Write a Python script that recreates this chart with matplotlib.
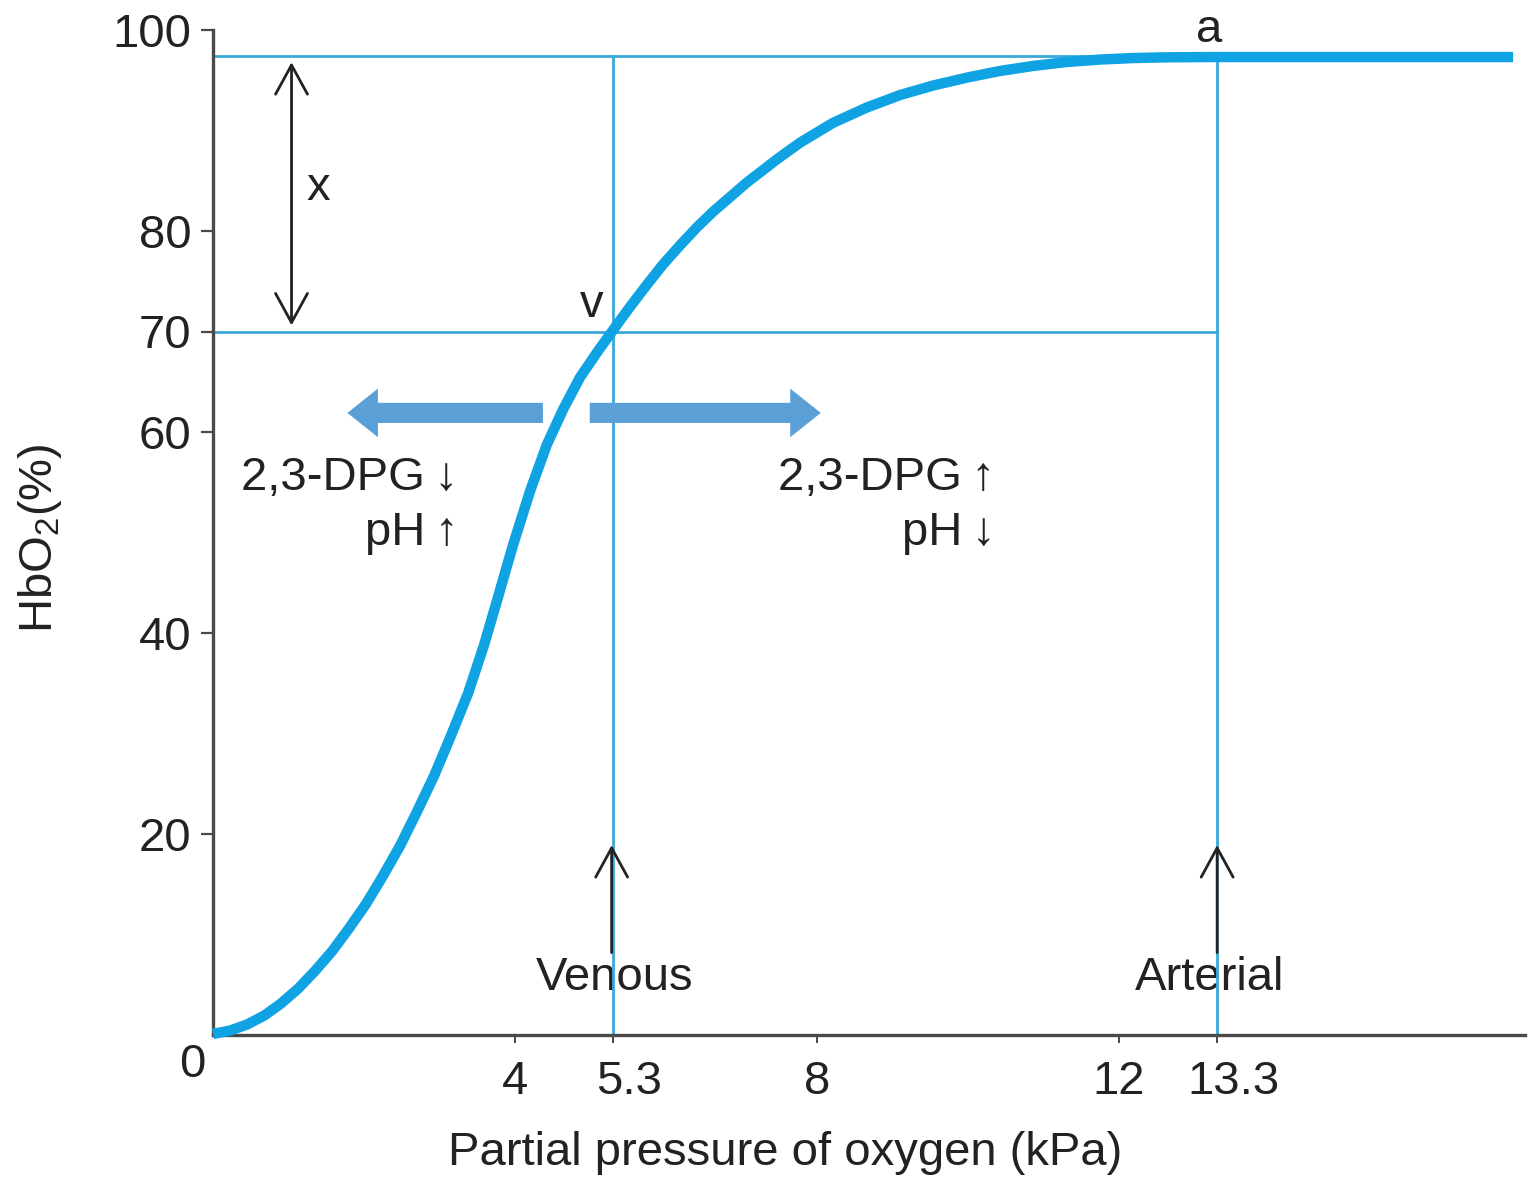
"""
Oxygen dissociation curve of haemoglobin, with venous and arterial points.
"""

import matplotlib

matplotlib.use('Agg')

import matplotlib.pyplot as plt
from matplotlib import font_manager
from matplotlib.patches import ArrowStyle, FancyArrowPatch
from matplotlib.transforms import ScaledTranslation

# curve (kPa, % saturation)
po2 = [0.0, 0.23, 0.45, 0.68, 0.90, 1.13, 1.35, 1.58, 1.80, 2.03, 2.25, 2.48,
       2.70, 2.93, 3.15, 3.38, 3.59, 3.76, 3.97, 4.20, 4.42, 4.64, 4.86, 5.09,
       5.29, 5.51, 5.75, 5.96, 6.19, 6.41, 6.62, 6.85, 7.07, 7.29, 7.47, 7.78,
       8.21, 8.66, 9.10, 9.54, 9.99, 10.42, 10.86, 11.31, 11.75, 12.19, 12.62,
       13.21, 17.22]
hbo2 = [0.10, 0.45, 1.04, 1.94, 3.13, 4.63, 6.37, 8.36, 10.60, 13.08, 15.82,
        18.86, 22.19, 25.82, 29.75, 34.03, 38.81, 43.18, 48.66, 54.13, 58.71,
        62.29, 65.42, 67.96, 70.05, 72.32, 74.68, 76.67, 78.61, 80.37, 81.90,
        83.39, 84.82, 86.09, 87.14, 88.81, 90.75, 92.29, 93.53, 94.48, 95.27,
        95.92, 96.42, 96.82, 97.06, 97.21, 97.28, 97.31, 97.31]

x_ticks = [4, 5.3, 8, 12, 13.3]
x_tick_labels = ['4', '5.3', '8', '12', '13.3']
y_ticks = [20, 40, 60, 70, 80, 100]
y_tick_labels = ['20', '40', '60', '70', '80', '100']

venous_po2 = 5.3
venous_sat = 70
arterial_po2 = 13.3
arterial_sat = 97.4

installed = {f.name for f in font_manager.fontManager.ttflist}
base_font = 'Liberation Sans Narrow' if 'Liberation Sans Narrow' in installed else 'Liberation Sans'
plt.rcParams['font.family'] = [base_font, 'DejaVu Sans']
plt.rcParams['mathtext.fontset'] = 'custom'
plt.rcParams['mathtext.rm'] = base_font

FS = 37 if base_font.endswith('Narrow') else 34
TEXT = '#222222'
AXIS = '#4a4a4a'
GUIDE = '#3aa8d8'
CURVE = '#0fa3e3'
SHIFT = '#5a9fd6'

fig = plt.figure(figsize=(15.3, 11.8), dpi=100)
ax = fig.add_axes([213 / 1530, 145 / 1180, 1312 / 1530, 1005 / 1180])
ax.set_xlim(0, 1312 / 75.5)
ax.set_ylim(0, 100)

for side in ('top', 'right'):
    ax.spines[side].set_visible(False)
for side in ('left', 'bottom'):
    ax.spines[side].set_color(AXIS)
    ax.spines[side].set_linewidth(2.4)

ax.set_xticks(x_ticks, x_tick_labels)
ax.set_yticks(y_ticks, y_tick_labels)
ax.tick_params(axis='y', direction='out', length=8.5, width=1.6, color=AXIS,
               labelsize=FS, labelcolor=TEXT, pad=7)
ax.tick_params(axis='x', direction='out', length=6, width=1.4, color=AXIS,
               labelsize=FS, labelcolor=TEXT, pad=12)

# decimal labels sit a little right of their ticks in the original
for label, text in zip(ax.get_xticklabels(), x_tick_labels):
    if '.' in text:
        label.set_transform(label.get_transform()
                            + ScaledTranslation(0.16, 0, fig.dpi_scale_trans))

# guide lines
ax.plot([0, arterial_po2], [arterial_sat, arterial_sat], color=GUIDE, lw=2, zorder=2)
ax.plot([0, arterial_po2], [venous_sat, venous_sat], color=GUIDE, lw=2, zorder=2)
ax.plot([venous_po2, venous_po2], [0, arterial_sat], color=GUIDE, lw=2, zorder=2)
ax.plot([arterial_po2, arterial_po2], [0, arterial_sat], color=GUIDE, lw=2, zorder=2)

ax.plot(po2, hbo2, color=CURVE, lw=7.5, solid_capstyle='butt',
        solid_joinstyle='round', zorder=4, clip_on=False)


def line_arrow(start, end, style):
    arrow = FancyArrowPatch(start, end,
                            arrowstyle=ArrowStyle(style, head_length=21, head_width=11.5),
                            mutation_scale=1, shrinkA=0, shrinkB=0,
                            color=TEXT, lw=2, zorder=5)
    ax.add_patch(arrow)


def shift_arrow(start, end):
    arrow = FancyArrowPatch(start, end,
                            arrowstyle=ArrowStyle('simple', head_length=22,
                                                  head_width=35, tail_width=14.5),
                            mutation_scale=1, shrinkA=0, shrinkB=0,
                            color=SHIFT, lw=0, zorder=3)
    ax.add_patch(arrow)


# x: drop in saturation between arterial and venous blood
line_arrow((1.04, 70.6), (1.04, 96.8), '<->')
ax.text(1.39, 83.1, 'x', fontsize=FS, color=TEXT, ha='center', va='baseline')

ax.text(5.02, 71.4, 'v', fontsize=FS, color=TEXT, ha='center', va='baseline')
ax.text(13.2, 98.8, 'a', fontsize=FS, color=TEXT, ha='center', va='baseline',
        clip_on=False)

line_arrow((5.28, 8.2), (5.28, 18.9), '->')
line_arrow((13.3, 8.2), (13.3, 18.9), '->')
ax.text(5.32, 4.5, 'Venous', fontsize=FS, color=TEXT, ha='center', va='baseline', zorder=1)
ax.text(13.2, 4.5, 'Arterial', fontsize=FS, color=TEXT, ha='center', va='baseline', zorder=1)

# curve shifts
shift_arrow((4.37, 61.9), (1.78, 61.9))
shift_arrow((4.99, 61.9), (8.05, 61.9))
ax.text(3.25, 54.2, '2,3-DPG\u2009\u2193', fontsize=FS, color=TEXT, ha='right', va='baseline')
ax.text(3.25, 48.8, 'pH\u2009\u2191', fontsize=FS, color=TEXT, ha='right', va='baseline')
ax.text(10.36, 54.2, '2,3-DPG\u2009\u2191', fontsize=FS, color=TEXT, ha='right', va='baseline')
ax.text(10.36, 48.8, 'pH\u2009\u2193', fontsize=FS, color=TEXT, ha='right', va='baseline')

fig.text(192 / 1530, 1 - 1065 / 1180, '0', fontsize=FS, color=TEXT, ha='center', va='center')
fig.text(785 / 1530, 1 - 1153 / 1180, 'Partial pressure of oxygen (kPa)', fontsize=FS,
         color=TEXT, ha='center', va='center')
fig.text(40 / 1530, 1 - 538 / 1180, r'HbO$_\mathregular{2}$(%)', fontsize=FS, color=TEXT,
         ha='center', va='center', rotation=90)

fig.savefig('out.png', dpi=100, facecolor='white')
